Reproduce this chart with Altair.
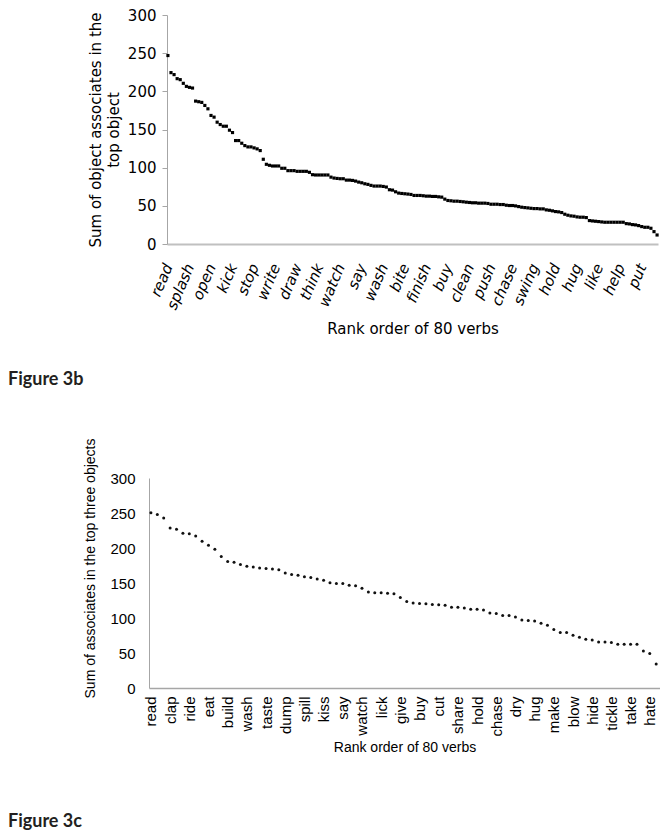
import json
import altair as alt
import pandas as pd

# ---------------- data ----------------
top_values = [
    246.9, 224.5, 221.9, 216.6, 215.3, 210.5, 206.5, 205.2, 204.3, 187.2,
    186.4, 185.5, 181.5, 177.1, 168.4, 166.2, 159.6, 156.5, 154.3, 154.3,
    149.1, 146.0, 135.5, 135.5, 132.0, 128.9, 127.2, 127.2, 125.9, 124.6,
    122.4, 111.0, 104.4, 103.1, 102.2, 102.2, 102.2, 99.2, 99.2, 96.1,
    96.1, 96.1, 95.2, 95.2, 95.2, 95.2, 93.9, 90.8, 90.4, 90.4,
    90.4, 90.4, 90.4, 87.6, 86.4, 85.9, 85.5, 85.5, 83.7, 83.7,
    83.3, 82.4, 81.1, 80.2, 78.9, 78.1, 76.8, 75.9, 75.9, 75.9,
    75.4, 74.6, 71.1, 70.6, 68.4, 66.7, 66.2, 65.8, 65.4, 64.9,
    63.6, 63.6, 63.6, 63.2, 62.7, 62.7, 62.3, 62.3, 61.8, 61.4,
    58.8, 57.0, 56.6, 56.1, 56.1, 55.7, 55.3, 54.8, 54.4, 54.0,
    54.0, 53.5, 53.5, 53.5, 53.1, 52.1, 52.1, 52.1, 51.7, 51.7,
    50.8, 50.4, 50.4, 49.9, 49.0, 48.2, 47.7, 47.3, 46.8, 46.4,
    46.4, 46.0, 46.0, 44.7, 44.2, 43.4, 42.5, 42.1, 41.2, 39.0,
    37.7, 36.8, 36.4, 35.5, 35.1, 35.1, 34.6, 30.7, 30.2, 29.8,
    29.4, 28.9, 28.5, 28.5, 28.5, 28.5, 28.5, 28.5, 28.5, 26.7,
    26.3, 25.4, 25.0, 24.1, 22.8, 21.9, 21.9, 20.6, 16.2, 11.8,
]
top_labels = ["read", "splash", "open", "kick", "stop", "write", "draw", "think",
              "watch", "say", "wash", "bite", "finish", "buy", "clean", "push",
              "chase", "swing", "hold", "hug", "like", "help", "put"]
top_label_step = 7

bottom_values = [
    250.2, 247.7, 242.8, 228.5, 226.8, 221.1, 220.3, 217.0, 209.6, 203.9,
    198.2, 188.0, 180.6, 179.8, 176.5, 174.1, 172.8, 171.6, 170.8, 170.0,
    168.8, 164.3, 162.2, 161.0, 159.0, 157.7, 155.7, 154.1, 150.4, 149.2,
    149.2, 146.7, 145.9, 142.6, 137.3, 136.1, 136.1, 135.3, 134.5, 129.2,
    123.4, 121.4, 120.6, 120.2, 119.4, 119.0, 118.1, 115.3, 115.3, 114.4,
    112.4, 112.4, 111.6, 107.1, 106.3, 103.4, 103.4, 101.4, 97.3, 96.5,
    95.6, 92.4, 89.5, 83.4, 79.3, 79.3, 75.2, 72.4, 69.5, 68.6,
    65.8, 65.8, 65.0, 62.5, 62.5, 62.5, 62.5, 52.7, 49.4, 34.3,
]
bottom_labels = ["read", "clap", "ride", "eat", "build", "wash", "taste", "dump",
                 "spill", "kiss", "say", "watch", "lick", "give", "buy", "cut",
                 "share", "hold", "chase", "dry", "hug", "make", "blow", "hide",
                 "tickle", "take", "hate"]
bottom_label_step = 3

y_ticks = [0, 50, 100, 150, 200, 250, 300]

top_df = pd.DataFrame({"rank": list(range(len(top_values))), "value": top_values})
bottom_df = pd.DataFrame({"rank": list(range(len(bottom_values))), "value": bottom_values})

top_expr = f"{json.dumps(top_labels)}[round(datum.value / {top_label_step})]"
bottom_expr = f"{json.dumps(bottom_labels)}[round(datum.value / {bottom_label_step})]"

VERDANA = "DejaVu Sans"
ARIAL = "Liberation Sans"

# top panel: plot box shares its left edge with the bottom panel; its own
# axes start 18px further right (scale range + negative axis offset)
TOP_W = 509
TOP_SHIFT = 18

top = alt.Chart(top_df).mark_square(size=10, color="#000000", opacity=1).encode(
    x=alt.X("rank:Q",
            scale=alt.Scale(domain=[-0.3, len(top_values) - 0.7], nice=False, zero=False,
                            range=[TOP_SHIFT, TOP_W]),
            axis=alt.Axis(values=list(range(0, len(top_values), top_label_step)),
                          labelExpr=top_expr, labelAngle=-67, labelFont=VERDANA,
                          labelFontStyle="italic", labelFontSize=15, labelColor="#000000",
                          labelPadding=20, labelOverlap=False, ticks=False, grid=False,
                          domainColor="#c0c0c0", domainWidth=2,
                          title="Rank order of 80 verbs", titleFont=VERDANA,
                          titleFontSize=15, titleFontWeight="normal", titleColor="#000000",
                          titlePadding=10, titleX=(TOP_SHIFT + TOP_W) / 2)),
    y=alt.Y("value:Q",
            scale=alt.Scale(domain=[0, 300], nice=False),
            axis=alt.Axis(values=y_ticks, grid=False, tickColor="#a6a6a6", tickSize=5,
                          domainColor="#a6a6a6", labelFont=VERDANA, labelFontSize=15,
                          labelColor="#000000", labelPadding=6, offset=-TOP_SHIFT,
                          title=["Sum of object associates in the", "top object"],
                          titleFont=VERDANA, titleFontSize=15, titleFontWeight="normal",
                          titleColor="#000000", titleLineHeight=18, titlePadding=6)),
).properties(
    width=TOP_W, height=229,
    title=alt.TitleParams("Figure 3b", orient="bottom", anchor="start", frame="group",
                          dx=-141, offset=35, font="Lato", fontWeight="bold",
                          fontSize=18, color="#231f20"),
)

bottom = alt.Chart(bottom_df).mark_circle(size=9, color="#111111", opacity=1).encode(
    x=alt.X("rank:Q",
            scale=alt.Scale(domain=[-0.3, len(bottom_values) - 0.4], nice=False, zero=False),
            axis=alt.Axis(values=list(range(0, len(bottom_values), bottom_label_step)),
                          labelExpr=bottom_expr, labelAngle=-90, labelFont=ARIAL,
                          labelFontSize=15, labelColor="#000000", labelPadding=8,
                          labelOverlap=False, ticks=False, grid=False,
                          domainColor="#a6a6a6", domainWidth=1.5,
                          title="Rank order of 80 verbs", titleFont=ARIAL,
                          titleFontSize=14, titleFontWeight="normal", titleColor="#000000",
                          titlePadding=4)),
    y=alt.Y("value:Q",
            scale=alt.Scale(domain=[0, 300], nice=False),
            axis=alt.Axis(values=y_ticks, grid=False, ticks=False,
                          domainColor="#a6a6a6", labelFont=ARIAL, labelFontSize=15,
                          labelColor="#000000", labelPadding=14,
                          title="Sum of associates in the top three objects",
                          titleFont=ARIAL, titleFontSize=14, titleFontWeight="normal",
                          titleColor="#000000", titlePadding=12, titleY=90)),
).properties(
    width=511, height=210,
    title=alt.TitleParams("Figure 3c", orient="bottom", anchor="start", frame="group",
                          dx=-141, offset=59, font="Lato", fontWeight="bold",
                          fontSize=18, color="#231f20"),
)

chart = alt.vconcat(top, bottom, spacing=48).properties(
    padding={"left": 0, "top": 0, "right": 0, "bottom": 0},
    background="white",
).configure_view(strokeWidth=0)

chart.save("out.html", embed_options={"renderer": "svg", "actions": False})
